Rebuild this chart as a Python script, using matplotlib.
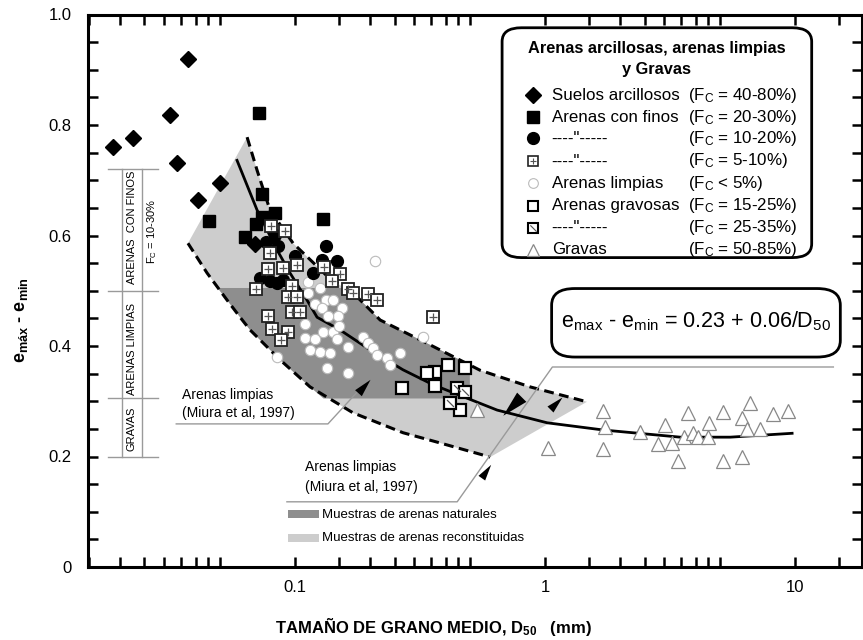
import numpy as np
import matplotlib
matplotlib.use('Agg')
import matplotlib.pyplot as plt
from matplotlib.patches import FancyBboxPatch, Polygon, Rectangle
from matplotlib.ticker import FixedLocator, MultipleLocator, NullFormatter

plt.rcParams['font.family'] = ['Liberation Sans', 'DejaVu Sans']
plt.rcParams['mathtext.fontset'] = 'custom'
plt.rcParams['mathtext.rm'] = 'Liberation Sans'
plt.rcParams['mathtext.it'] = 'Liberation Sans:italic'
plt.rcParams['mathtext.bf'] = 'Liberation Sans:bold'
plt.rcParams['mathtext.default'] = 'regular'

# --- data (D50 in mm, emax - emin) ---
arcillosos_x = [0.0187, 0.0225, 0.0316, 0.0373, 0.0337, 0.0409, 0.0501, 0.0692]
arcillosos_y = [0.760, 0.776, 0.818, 0.919, 0.731, 0.664, 0.695, 0.585]

finos_x = [0.0718, 0.0738, 0.0453, 0.0832, 0.0738, 0.0698, 0.0631, 0.1294]
finos_y = [0.822, 0.675, 0.626, 0.641, 0.633, 0.621, 0.597, 0.630]

finos2_x = [0.0832, 0.0766, 0.0855, 0.100, 0.133, 0.128, 0.147, 0.118, 0.0724, 0.0794, 0.0847, 0.0895]
finos2_y = [0.601, 0.588, 0.581, 0.563, 0.581, 0.556, 0.554, 0.532, 0.523, 0.518, 0.514, 0.519]

finos3_x = [0.0802, 0.0912, 0.0794, 0.1019, 0.0895, 0.078, 0.1306, 0.151, 0.1406, 0.0698,
            0.0973, 0.163, 0.1706, 0.1959, 0.2128, 0.0938, 0.1019, 0.0973, 0.1047, 0.078, 0.356,
            0.081, 0.094, 0.088]
finos3_y = [0.617, 0.608, 0.568, 0.547, 0.541, 0.539, 0.543, 0.530, 0.518, 0.503,
            0.509, 0.503, 0.496, 0.494, 0.483, 0.489, 0.489, 0.462, 0.462, 0.454, 0.452,
            0.430, 0.425, 0.410]

limpias_x = [0.0847, 0.1096, 0.1202, 0.1294, 0.1419, 0.1472, 0.163, 0.1148, 0.1259, 0.138,
             0.1343, 0.163, 0.187, 0.1959, 0.2051, 0.2128, 0.2333, 0.2399, 0.263, 0.325,
             0.2089, 0.1127, 0.1127, 0.1259, 0.133, 0.1419, 0.1202, 0.1282, 0.1542, 0.1486,
             0.1355, 0.110, 0.150]
limpias_y = [0.380, 0.414, 0.413, 0.425, 0.425, 0.413, 0.398, 0.393, 0.389, 0.387,
             0.360, 0.351, 0.416, 0.405, 0.396, 0.384, 0.378, 0.366, 0.387, 0.416,
             0.554, 0.516, 0.496, 0.505, 0.483, 0.483, 0.476, 0.469, 0.469, 0.454,
             0.454, 0.440, 0.437]

gravosas_x = [0.409, 0.479, 0.363, 0.337, 0.363, 0.457, 0.268]
gravosas_y = [0.366, 0.360, 0.353, 0.351, 0.328, 0.284, 0.324]

gravosas2_x = [0.445, 0.479, 0.417]
gravosas2_y = [0.324, 0.317, 0.297]

gravas_x = [0.535, 1.028, 1.706, 1.738, 1.706, 2.399, 3.02, 2.83, 3.22, 3.40, 3.60, 3.73,
            3.91, 4.09, 4.49, 4.53, 5.15, 5.15, 6.14, 6.14, 6.43, 6.61, 7.24, 8.17, 9.38]
gravas_y = [0.284, 0.215, 0.282, 0.253, 0.214, 0.244, 0.257, 0.222, 0.224, 0.192, 0.235, 0.279,
            0.242, 0.235, 0.235, 0.261, 0.280, 0.192, 0.270, 0.199, 0.250, 0.296, 0.250, 0.277, 0.282]

# fitted curve
curve_x = [0.0586, 0.0705, 0.0847, 0.0955, 0.1117, 0.1225, 0.1514, 0.1995, 0.270, 0.356,
           0.643, 1.019, 1.706, 3.47, 5.5, 9.72]
curve_y = [0.736, 0.646, 0.574, 0.532, 0.483, 0.452, 0.429, 0.393, 0.357, 0.330,
           0.284, 0.261, 0.248, 0.235, 0.235, 0.242]

# Miura et al. (1997) bounds
upper_x = [0.0643, 0.0705, 0.0794, 0.0982, 0.1355, 0.177, 0.219, 0.347, 0.55, 0.871, 1.47]
upper_y = [0.778, 0.718, 0.646, 0.586, 0.525, 0.489, 0.447, 0.402, 0.356, 0.326, 0.299]
lower_x = [0.0373, 0.0445, 0.0535, 0.0603, 0.0661, 0.0871, 0.1148, 0.1706, 0.2704, 0.37, 0.603]
lower_y = [0.586, 0.532, 0.483, 0.452, 0.429, 0.375, 0.326, 0.279, 0.243, 0.226, 0.199]

# natural samples zone (dark)
natural_x = [0.049, 0.157, 0.177, 0.219, 0.347, 0.50, 0.50, 0.13, 0.1148, 0.0871, 0.0661, 0.0603, 0.0535]
natural_y = [0.505, 0.505, 0.489, 0.447, 0.402, 0.366, 0.305, 0.305, 0.326, 0.375, 0.429, 0.452, 0.483]

fc_labels = ['(F$_C$ = 40-80%)', '(F$_C$ = 20-30%)', '(F$_C$ = 10-20%)', '(F$_C$ = 5-10%)',
             '(F$_C$ < 5%)', '(F$_C$ = 15-25%)', '(F$_C$ = 25-35%)', '(F$_C$ = 50-85%)']
names = ['Suelos arcillosos', 'Arenas con finos', '----"-----', '----"-----',
         'Arenas limpias', 'Arenas gravosas', '----"-----', 'Gravas']

LIGHT = '#cdcdcd'
DARK = '#8e8e8e'


def head(angle):
    # arrowhead outline pointing along `angle` (degrees, screen space)
    a = np.deg2rad(angle)
    pts = np.array([[1.0, 0.0], [-1.0, 0.5], [-1.0, -0.5]])
    rot = np.array([[np.cos(a), -np.sin(a)], [np.sin(a), np.cos(a)]])
    return pts @ rot.T


fig = plt.figure(figsize=(8.63, 6.40), dpi=100)
ax = fig.add_axes([88 / 863, 1 - 567 / 640, 774 / 863, 552.5 / 640])
ax.set_xscale('log')
ax.set_xlim(0.01486, 18.5)
ax.set_ylim(0, 1.0)

# shaded zones
light_poly = list(zip(lower_x, lower_y)) + list(zip(upper_x[::-1], upper_y[::-1]))
ax.add_patch(Polygon(light_poly, closed=True, facecolor=LIGHT, edgecolor='none', zorder=1))
ax.add_patch(Polygon(list(zip(natural_x, natural_y)), closed=True, facecolor=DARK,
                     edgecolor='none', zorder=1.1))

ax.plot(upper_x, upper_y, color='k', lw=2.2, dashes=(3.2, 1.8), zorder=2)
ax.plot(lower_x, lower_y, color='k', lw=2.2, dashes=(3.2, 1.8), zorder=2)
ax.plot(curve_x, curve_y, color='k', lw=2.0, zorder=2.5)

# markers
ax.plot(arcillosos_x, arcillosos_y, ls='none', marker='D', ms=8.5, color='k', zorder=4)
ax.plot(finos_x, finos_y, ls='none', marker='s', ms=8, color='k', zorder=4)
ax.plot(finos2_x, finos2_y, ls='none', marker='o', ms=8.5, color='k', zorder=4)
ax.plot(finos3_x, finos3_y, ls='none', marker='s', ms=8, mfc='white', mec='#222', mew=1.3, zorder=4)
ax.plot(finos3_x, finos3_y, ls='none', marker='+', ms=5.5, color='#555', mew=0.9, zorder=4.1)
ax.plot(limpias_x, limpias_y, ls='none', marker='o', ms=7.5, mfc='white', mec='#bbbbbb', mew=0.8, zorder=3.5)
ax.plot(gravosas_x, gravosas_y, ls='none', marker='s', ms=8, mfc='white', mec='k', mew=1.6, zorder=4)
ax.plot(gravosas2_x, gravosas2_y, ls='none', marker='s', ms=8, mfc='white', mec='k', mew=1.6, zorder=4)
ax.plot(gravosas2_x, gravosas2_y, ls='none', marker=[(-1, 1), (1, -1)], ms=5, mec='#555', mew=0.9, zorder=4.1)
ax.plot(gravas_x, gravas_y, ls='none', marker='^', ms=10, mfc='white', mec='#888888', mew=0.9, zorder=3.5)

# axes styling
for s in ax.spines.values():
    s.set_linewidth(2.2)
ax.xaxis.set_major_locator(FixedLocator([0.1, 1, 10]))
ax.xaxis.set_minor_locator(FixedLocator([m * d for d in (0.01, 0.1, 1, 10)
                                         for m in (1.5, 2, 2.5, 3, 3.5, 4, 4.5, 5)]))
ax.xaxis.set_minor_formatter(NullFormatter())
ax.set_xticklabels(['0.1', '1', '10'])
ax.set_yticks([0, 0.2, 0.4, 0.6, 0.8, 1.0])
ax.set_yticklabels(['0', '0.2', '0.4', '0.6', '0.8', '1.0'])
ax.yaxis.set_minor_locator(MultipleLocator(0.05))
ax.tick_params(which='both', direction='in', top=True, right=True, length=7, width=1.8,
               labelsize=12, color='k')
ax.tick_params(axis='x', pad=9)
ax.tick_params(axis='y', pad=12)

fig.text(433 / 863, 1 - 627 / 640, 'TAMAÑO DE GRANO MEDIO, D$_{\\mathbf{50}}$   (mm)',
         ha='center', va='center', fontsize=12, fontweight='bold')
fig.text(22 / 863, 1 - 320 / 640, 'e$_{\\mathbf{máx}}$ - e$_{\\mathbf{min}}$', rotation=90,
         ha='center', va='center', fontsize=13, fontweight='bold')

# legend box
T = ax.transAxes
ax.add_patch(FancyBboxPatch((0.547, 0.572), 0.376, 0.392, boxstyle='round,pad=0.012,rounding_size=0.025',
                            transform=T, facecolor='white', edgecolor='k', lw=2, zorder=5))
ax.text(0.735, 0.939, 'Arenas arcillosas, arenas limpias', transform=T, ha='center', va='center',
        fontsize=11.8, fontweight='bold', zorder=6)
ax.text(0.735, 0.900, 'y Gravas', transform=T, ha='center', va='center',
        fontsize=11.8, fontweight='bold', zorder=6)
rows = [0.854, 0.814, 0.776, 0.735, 0.695, 0.654, 0.614, 0.574]
styles = [dict(marker='D', ms=8, color='k'),
          dict(marker='s', ms=8, color='k'),
          dict(marker='o', ms=8.5, color='k'),
          dict(marker='s', ms=7, mfc='white', mec='#222', mew=1.2),
          dict(marker='o', ms=7, mfc='white', mec='#bbbbbb', mew=0.8),
          dict(marker='s', ms=7, mfc='white', mec='k', mew=1.5),
          dict(marker='s', ms=7, mfc='white', mec='k', mew=1.5),
          dict(marker='^', ms=9, mfc='white', mec='#888888', mew=0.9)]
for r, st, nm, fc in zip(rows, styles, names, fc_labels):
    ax.plot([0.575], [r], ls='none', transform=T, clip_on=False, zorder=6, **st)
    ax.text(0.599, r, nm, transform=T, ha='left', va='center', fontsize=12.2, zorder=6)
    ax.text(0.775, r, fc, transform=T, ha='left', va='center', fontsize=12.2, zorder=6)
ax.plot([0.575], [rows[3]], ls='none', marker='+', ms=5, color='#555', mew=0.8, transform=T, zorder=6.1)
ax.plot([0.575], [rows[6]], ls='none', marker=[(-1, 1), (1, -1)], ms=4.5, mec='#555', mew=0.8,
        transform=T, zorder=6.1)

# equation box
ax.add_patch(FancyBboxPatch((0.611, 0.392), 0.349, 0.100, boxstyle='round,pad=0.012,rounding_size=0.03',
                            transform=T, facecolor='white', edgecolor='k', lw=2, zorder=5))
ax.text(0.786, 0.444, 'e$_{max}$ - e$_{min}$ = 0.23 + 0.06/D$_{50}$', transform=T,
        ha='center', va='center', fontsize=15.5, zorder=6)

# left-hand ranges
G = '#9a9a9a'
for xv in (0.0439, 0.0698):
    ax.plot([xv, xv], [0.2, 0.72], color=G, lw=1, transform=T)
for yv in (0.72, 0.5, 0.305, 0.2):
    ax.plot([0.0258, 0.0904], [yv, yv], color=G, lw=1, transform=T)
ax.text(0.0568, 0.615, 'ARENAS  CON FINOS', transform=T, rotation=90, ha='center', va='center', fontsize=8)
ax.text(0.0827, 0.607, 'F$_C$ = 10-30%', transform=T, rotation=90, ha='center', va='center', fontsize=8)
ax.text(0.0568, 0.394, 'ARENAS LIMPIAS', transform=T, rotation=90, ha='center', va='center', fontsize=8)
ax.text(0.0568, 0.251, 'GRAVAS', transform=T, rotation=90, ha='center', va='center', fontsize=8)

# Miura labels and leaders
ax.text(0.122, 0.311, 'Arenas limpias', transform=T, ha='left', va='center', fontsize=10)
ax.text(0.122, 0.278, '(Miura et al, 1997)', transform=T, ha='left', va='center', fontsize=10)
ax.plot([0.114, 0.310, 0.350], [0.259, 0.259, 0.320], color=G, lw=1, transform=T)
ax.text(0.280, 0.181, 'Arenas limpias', transform=T, ha='left', va='center', fontsize=10)
ax.text(0.280, 0.145, '(Miura et al, 1997)', transform=T, ha='left', va='center', fontsize=10)
ax.plot([0.257, 0.477, 0.600, 0.963], [0.118, 0.118, 0.362, 0.362], color=G, lw=1, transform=T)

for (hx, hy), ang, sz in [((0.356, 0.327), 48, 14), ((0.514, 0.174), 55, 13),
                          ((0.605, 0.297), 45, 13), ((0.548, 0.292), 225, 20)]:
    ax.plot([hx], [hy], ls='none', marker=head(ang), ms=sz, color='k', mew=0,
            transform=T, zorder=6)

# sample type key
ax.add_patch(Rectangle((0.258, 0.088), 0.041, 0.015, transform=T, facecolor=DARK, edgecolor='none'))
ax.add_patch(Rectangle((0.258, 0.045), 0.041, 0.015, transform=T, facecolor=LIGHT, edgecolor='none'))
ax.text(0.302, 0.095, 'Muestras de arenas naturales', transform=T, ha='left', va='center', fontsize=9.5)
ax.text(0.302, 0.052, 'Muestras de arenas reconstituidas', transform=T, ha='left', va='center', fontsize=9.5)

fig.savefig('out.png', dpi=100)
